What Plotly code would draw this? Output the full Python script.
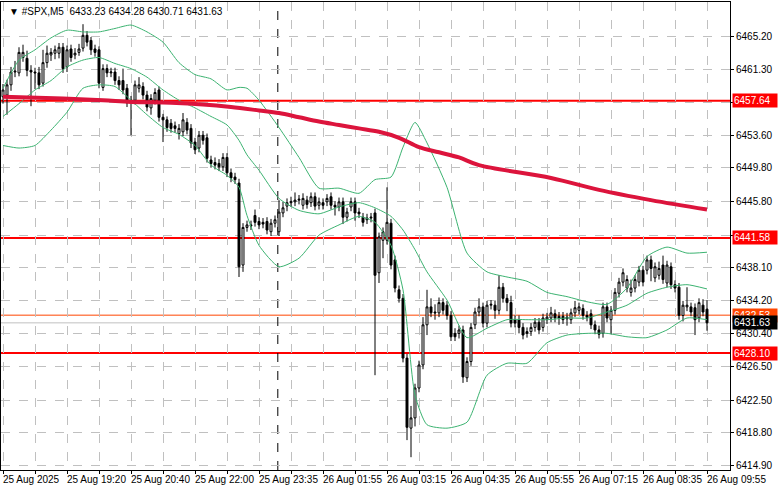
import plotly.graph_objects as go

opens = [6458.1,6458.3,6459.5,6461.0,6460.9,6462.7,6462.6,6461.2,6461.0,6460.9,6459.7,6462.1,6463.0,6463.2,6463.2,6463.9,6461.6,6463.7,6463.0,6463.3,
6463.8,6465.3,6464.7,6463.7,6463.6,6459.2,6461.4,6460.9,6461.0,6460.0,6460.0,6459.1,6457.7,6457.7,6459.1,6459.3,6458.3,6456.8,6457.7,6458.9,
6455.7,6455.4,6455.0,6454.7,6453.8,6454.0,6455.1,6454.4,6452.8,6452.1,6453.6,6453.3,6450.7,6450.4,6450.3,6449.9,6451.0,6449.2,6448.7,6448.0,
6438.4,6442.8,6443.1,6444.2,6443.5,6443.4,6443.5,6442.3,6443.3,6442.3,6444.5,6445.3,6445.7,6445.8,6446.0,6445.4,6446.0,6445.7,6446.4,6445.4,
6445.7,6445.8,6446.4,6445.4,6445.2,6445.8,6444.0,6445.2,6445.8,6444.6,6444.0,6443.7,6443.9,6444.5,6437.5,6441.3,6441.3,6443.3,6439.0,6435.5,
6434.5,6427.5,6419.3,6420.5,6424.0,6426.7,6431.4,6433.5,6432.9,6432.8,6434.0,6433.7,6432.5,6430.4,6430.4,6430.8,6425.2,6427.1,6431.4,6432.9,
6433.5,6431.6,6433.7,6433.7,6433.1,6435.8,6434.5,6434.0,6432.0,6432.0,6431.1,6430.6,6430.6,6431.1,6431.7,6431.1,6432.0,6432.2,6432.7,6432.4,
6432.4,6432.3,6432.0,6432.8,6433.1,6433.3,6432.5,6432.7,6431.4,6430.8,6430.4,6433.5,6432.0,6433.1,6435.1,6436.4,6435.7,6435.2,6435.7,6436.4,
6437.8,6437.8,6439.0,6436.9,6437.2,6438.4,6436.3,6438.2,6436.1,6435.8,6432.5,6433.5,6433.5,6433.4,6432.2,6433.7,6433.23]
closes = [6458.9,6459.5,6461.0,6461.1,6463.3,6463.3,6461.2,6461.0,6460.9,6459.5,6462.1,6463.2,6463.3,6463.6,6463.9,6461.4,6463.6,6462.7,6463.2,6463.7,
6465.3,6464.5,6463.6,6463.3,6459.7,6461.4,6460.9,6461.0,6460.0,6459.5,6458.9,6457.4,6457.6,6459.5,6459.5,6458.3,6456.9,6457.9,6458.6,6455.7,
6455.4,6454.5,6454.4,6454.4,6454.4,6455.4,6454.2,6452.7,6451.9,6453.6,6453.0,6450.9,6450.3,6450.1,6449.9,6451.0,6449.2,6448.6,6448.4,6438.2,
6442.8,6443.1,6443.0,6443.4,6443.1,6443.2,6442.5,6443.3,6443.7,6444.6,6445.1,6445.7,6445.8,6446.0,6446.1,6446.2,6445.5,6446.4,6445.3,6445.8,
6445.4,6446.2,6445.4,6445.2,6445.8,6444.0,6444.6,6445.8,6444.5,6444.4,6443.4,6443.9,6444.0,6437.2,6441.7,6442.3,6443.4,6438.4,6435.7,6434.5,
6427.5,6419.4,6420.5,6424.0,6426.7,6431.4,6433.5,6432.8,6432.8,6434.0,6433.1,6432.5,6430.0,6430.0,6430.8,6425.3,6427.1,6431.1,6432.9,6433.5,
6431.6,6433.7,6433.8,6433.1,6435.8,6434.5,6434.0,6431.6,6431.6,6431.1,6430.2,6430.4,6431.1,6431.7,6430.8,6432.2,6432.3,6432.8,6432.2,6432.2,
6432.0,6432.1,6432.8,6433.4,6433.5,6432.5,6432.3,6431.4,6430.8,6430.3,6433.5,6432.2,6433.1,6435.2,6436.4,6437.5,6436.7,6435.7,6436.7,6437.8,
6436.4,6439.0,6438.0,6438.2,6438.0,6436.7,6438.4,6436.1,6435.7,6432.5,6433.7,6433.7,6432.9,6432.0,6434.0,6432.9,6431.63]
highs = [6459.6,6460.1,6461.6,6462.3,6463.9,6464.2,6463.5,6461.8,6461.5,6461.6,6463.6,6464.1,6463.8,6464.1,6464.4,6464.4,6464.1,6464.2,6463.8,6464.3,
6466.6,6465.8,6465.1,6464.2,6464.0,6461.9,6461.9,6461.5,6461.5,6460.5,6461.4,6459.6,6458.2,6460.0,6460.4,6459.8,6458.8,6458.4,6459.1,6459.3,
6456.1,6455.8,6455.5,6455.2,6454.9,6456.2,6455.6,6454.9,6453.3,6454.1,6454.1,6453.8,6451.2,6451.0,6450.8,6451.5,6451.5,6449.7,6449.2,6448.5,
6443.3,6443.6,6443.6,6444.9,6444.0,6443.9,6444.0,6443.8,6444.2,6446.0,6445.8,6446.2,6446.4,6446.9,6446.6,6446.8,6446.5,6446.9,6446.9,6446.3,
6446.2,6446.7,6446.9,6445.9,6446.3,6446.3,6445.1,6446.3,6446.3,6445.1,6444.5,6444.4,6444.5,6445.0,6442.2,6442.8,6447.5,6443.8,6439.5,6436.0,
6435.0,6428.0,6421.9,6424.5,6427.2,6432.3,6435.5,6434.5,6433.8,6434.6,6434.5,6434.2,6433.0,6431.0,6431.3,6431.3,6427.6,6431.6,6433.4,6434.5,
6434.0,6434.2,6434.3,6434.2,6437.2,6436.3,6435.0,6434.8,6432.5,6432.5,6431.6,6431.1,6431.6,6432.2,6432.2,6432.7,6432.8,6433.5,6433.2,6432.9,
6432.9,6432.8,6433.3,6434.2,6434.0,6433.8,6433.0,6433.2,6431.9,6431.3,6434.0,6434.0,6433.6,6435.7,6436.9,6438.0,6437.2,6436.7,6437.2,6438.3,
6438.3,6439.5,6439.5,6438.7,6438.8,6439.5,6438.9,6438.7,6436.6,6436.3,6434.2,6435.8,6434.0,6433.9,6434.5,6434.4,6434.28]
lows = [6457.3,6456.0,6458.8,6460.4,6460.5,6462.2,6460.5,6457.0,6459.0,6459.0,6459.3,6461.5,6462.3,6462.5,6462.6,6460.9,6461.0,6462.2,6462.5,6462.9,
6463.4,6464.0,6463.0,6462.8,6459.1,6458.8,6460.4,6460.4,6459.5,6458.9,6458.4,6456.9,6453.6,6457.2,6458.6,6457.8,6456.4,6456.0,6457.2,6455.2,
6452.8,6454.0,6453.9,6453.9,6453.1,6453.5,6453.7,6452.1,6451.4,6451.6,6452.5,6450.4,6449.8,6449.6,6449.4,6449.4,6448.7,6448.1,6447.9,6437.0,
6437.6,6442.3,6442.5,6442.9,6442.6,6442.7,6442.0,6441.8,6442.8,6441.8,6444.0,6444.7,6445.2,6445.3,6445.5,6444.9,6445.0,6445.2,6444.8,6444.9,
6444.9,6445.3,6444.9,6444.2,6444.7,6443.2,6443.5,6444.7,6443.6,6443.9,6442.9,6443.2,6443.4,6425.5,6436.3,6439.2,6440.8,6437.9,6435.2,6434.0,
6427.0,6417.9,6415.9,6419.5,6423.5,6426.2,6430.2,6432.3,6432.0,6432.3,6432.6,6432.0,6429.5,6429.5,6429.8,6424.6,6424.7,6426.6,6430.9,6432.4,
6431.1,6431.1,6433.2,6432.1,6432.6,6434.0,6433.0,6431.1,6431.1,6430.4,6429.7,6429.9,6430.1,6430.6,6430.3,6430.6,6431.5,6431.7,6431.7,6431.4,
6431.5,6431.3,6431.5,6432.3,6432.6,6432.0,6431.8,6430.9,6430.3,6429.8,6429.9,6431.7,6430.3,6432.6,6434.6,6435.9,6435.2,6434.7,6435.2,6435.9,
6435.9,6437.3,6436.5,6436.4,6436.7,6436.2,6435.8,6435.6,6435.2,6432.0,6431.8,6433.0,6432.4,6430.2,6431.7,6432.4,6430.71]

band_idx = [1,5,9,13,17,21,25,29,33,37,41,45,49,53,57,60,62,65,70,75,80,85,90,94,98,101,104,107,112,117,122,127,132,137,142,147,152,157,162,167,172,177]
bb_upper = [6459.1,6462.4,6463.6,6465.0,6465.9,6465.7,6465.7,6466.1,6466.5,6465.7,6464.5,6462.1,6460.7,6460.2,6458.9,6459.2,6459.1,6457.7,6454.5,6451.0,
6447.4,6447.4,6446.8,6448.4,6448.7,6452.2,6455.1,6452.7,6447.5,6439.8,6437.6,6437.0,6436.5,6435.2,6434.7,6434.1,6433.8,6435.7,6439.4,6440.5,6439.8,6439.9]
bb_mid = [6455.8,6457.3,6458.9,6460.0,6461.6,6462.4,6462.7,6462.0,6461.4,6460.4,6458.9,6457.7,6456.8,6455.8,6454.8,6453.0,6451.3,6449.5,6446.2,6444.8,
6444.4,6445.2,6445.7,6445.1,6444.1,6442.5,6440.2,6437.6,6434.3,6429.9,6431.0,6432.0,6432.0,6432.0,6432.2,6432.2,6432.9,6433.7,6435.1,6435.8,6436.1,6435.6]
bb_lower = [6452.4,6452.1,6452.4,6454.2,6456.3,6459.1,6459.5,6459.3,6457.7,6456.0,6454.5,6453.7,6452.4,6450.1,6448.9,6447.5,6444.2,6440.7,6438.2,6439.2,
6441.9,6443.1,6444.1,6443.4,6440.7,6435.5,6423.2,6419.7,6419.3,6420.0,6425.5,6426.9,6426.9,6429.3,6430.2,6430.4,6430.4,6430.0,6429.9,6430.8,6432.2,6432.0]

ma_idx = [1,16,26,33,43,51,58,65,70,75,80,85,90,95,100,105,110,115,120,138,150,163,177]
ma_vals = [6458.1,6457.9,6457.7,6457.5,6457.4,6457.2,6456.9,6456.5,6456.2,6455.7,6455.2,6454.8,6454.4,6454.0,6453.3,6452.2,6451.6,6451.0,6450.1,6448.6,6447.2,6446.0,6444.9]

levels = [6457.64, 6441.58, 6428.10]
ask, bid = 6432.53, 6431.63

ytick_vals = [6465.20,6461.30,6457.40,6453.60,6449.80,6445.80,6441.90,6438.10,6434.20,6430.40,6426.50,6422.50,6418.80,6414.90]
ytick_hidden = [6457.40, 6441.90]
xlabel_idx = [1,17,33,49,65,81,97,113,129,145,161,177]
xlabels = ["25 Aug 2025","25 Aug 19:20","25 Aug 20:40","25 Aug 22:00","25 Aug 23:35","26 Aug 01:55",
           "26 Aug 03:15","26 Aug 04:35","26 Aug 05:55","26 Aug 07:15","26 Aug 08:35","26 Aug 09:55"]
separator_idx = 69.7
title_text = "#SPX,M5  6433.23 6434.28 6430.71 6431.63"

idx = list(range(1, len(closes) + 1))
FONT = "Liberation Sans"
GREEN = "#3cb371"

fig = go.Figure()
for lv in levels:
    fig.add_hline(y=lv, line=dict(color="#ff0000", width=2), layer="below")
fig.add_hline(y=ask, line=dict(color="#ff4500", width=1), layer="below")
fig.add_hline(y=bid, line=dict(color="#c0c0c0", width=1), layer="below")
fig.add_vline(x=separator_idx, line=dict(color="black", width=1, dash="dash"), layer="below")

for band in (bb_upper, bb_mid, bb_lower):
    fig.add_trace(go.Scatter(x=band_idx, y=band, mode="lines", line=dict(color=GREEN, width=1, shape="spline", smoothing=0.6),
                             hoverinfo="skip", showlegend=False))
fig.add_trace(go.Scatter(x=ma_idx, y=ma_vals, mode="lines", line=dict(color="#dc143c", width=4, shape="spline"),
                         hoverinfo="skip", showlegend=False))
fig.add_trace(go.Candlestick(x=idx, open=opens, high=highs, low=lows, close=closes,
                             increasing=dict(fillcolor="white", line=dict(color="black", width=1)),
                             decreasing=dict(fillcolor="black", line=dict(color="black", width=1)),
                             whiskerwidth=0, showlegend=False))

ann = []
for v, bg in [(levels[0], "#ff0000"), (levels[1], "#ff0000"), (levels[2], "#ff0000"), (ask, "#ff4500"), (bid, "#000000")]:
    ann.append(dict(xref="paper", x=1.0, yref="y", y=v, xanchor="left", yanchor="middle", text=f"{v:.2f}",
                    showarrow=False, bgcolor=bg, font=dict(color="white", size=10, family=FONT),
                    borderpad=1, width=42, align="left", xshift=2))
for i, t in zip(xlabel_idx, xlabels):
    ann.append(dict(xref="x", x=i - 0.4, yref="paper", y=0, yshift=-2, xanchor="left", yanchor="top",
                    text=t, showarrow=False, font=dict(color="black", size=10, family=FONT)))
ann.append(dict(xref="paper", x=0.008, yref="paper", y=1, yshift=-2, xanchor="left", yanchor="top",
                text="▼ " + title_text, showarrow=False, font=dict(color="black", size=10, family=FONT)))

fig.update_layout(
    width=781, height=489, margin=dict(l=1, r=51, t=2, b=19),
    paper_bgcolor="white", plot_bgcolor="white", annotations=ann,
    xaxis=dict(range=[0.5, 182.75], rangeslider=dict(visible=False), tickvals=list(range(1, 183, 8)),
               showticklabels=False, showgrid=True, gridcolor="#c0c0c0", griddash="dash", gridwidth=1,
               showline=True, linecolor="black", mirror=True, zeroline=False,
               ticks="outside", ticklen=3, tickcolor="black"),
    yaxis=dict(range=[6414.4, 6469.2], side="right", tickvals=ytick_vals,
               ticktext=["" if v in ytick_hidden else f"{v:.2f}" for v in ytick_vals],
               showgrid=True, gridcolor="#c0c0c0", griddash="dash", gridwidth=1,
               showline=True, linecolor="black", mirror=True, zeroline=False,
               ticks="outside", ticklen=3, tickcolor="black",
               tickfont=dict(size=10, family=FONT, color="black")),
    font=dict(family=FONT),
)
fig.write_html("out.html", config={"displayModeBar": False},
               post_script="document.body.style.margin='0';document.body.style.overflow='hidden';")
